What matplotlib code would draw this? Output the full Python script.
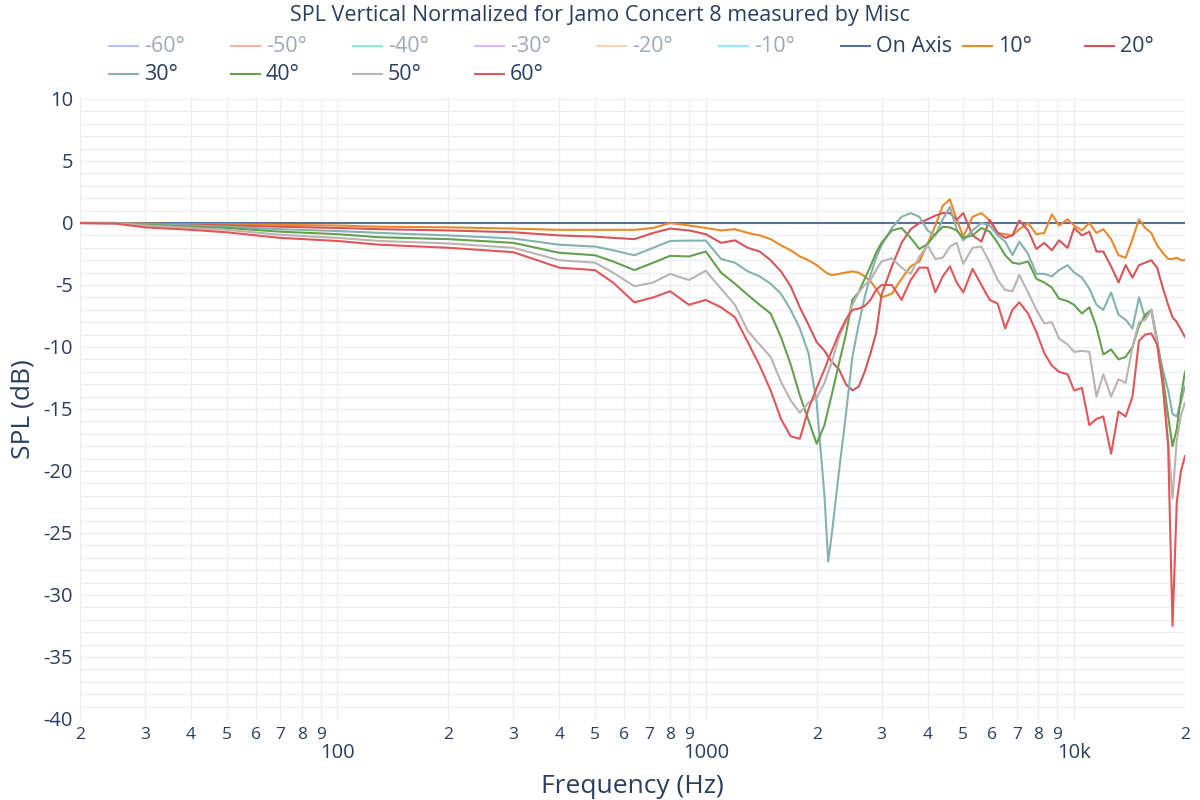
import matplotlib
matplotlib.use("Agg")
import matplotlib.pyplot as plt
from matplotlib.lines import Line2D
from matplotlib.ticker import FixedLocator

plt.rcParams['font.family'] = ['Open Sans', 'DejaVu Sans']
plt.rcParams['axes.unicode_minus'] = False

TEXT = '#2a3f5f'

# frequency grid (Hz)
freq = [20, 25, 30, 40, 50, 70, 100, 130, 200, 300,
        400, 500, 560, 640, 720, 800, 900, 1000,
        1100, 1200, 1300, 1400, 1500, 1600, 1700, 1800, 1900, 2000,
        2100, 2150, 2200, 2300, 2400, 2500, 2600, 2700, 2800, 2900, 3000,
        3200, 3400, 3600, 3800, 4000, 4200, 4400, 4600, 4800, 5000,
        5300, 5600, 5900, 6200, 6500, 6800, 7100, 7500, 7900, 8300, 8700, 9100, 9600, 10000,
        10500, 11000, 11500, 12000, 12600, 13200, 13800, 14400, 15000, 15600, 16200, 16800,
        17400, 18000, 18500, 19000, 19500, 20000]

spl_on = [0.0] * len(freq)

spl_10 = [0, 0, -0.05, -0.1, -0.1, -0.15, -0.2, -0.3, -0.35, -0.45,
          -0.55, -0.55, -0.55, -0.55, -0.4, 0.0, -0.2, -0.4,
          -0.6, -0.5, -0.8, -1.0, -1.3, -1.8, -2.2, -2.7, -3.0, -3.4,
          -3.9, -4.1, -4.2, -4.1, -4.0, -3.9, -4.0, -4.3, -4.7, -5.3, -6.0,
          -5.7, -4.5, -3.5, -3.1, -1.7, -0.2, 1.4, 1.9, 0.3, -1.1,
          0.5, 0.8, 0.2, -0.8, -0.9, -1.0, -0.5, 0.0, -0.9, -0.8, 0.7, -0.2, 0.3, -0.2,
          -0.6, 0.0, -0.8, -0.5, -1.3, -2.6, -2.8, -1.3, 0.3, -0.4, -0.8, -1.8,
          -2.4, -2.9, -2.9, -2.8, -3.0, -3.0]

spl_20 = [0, 0, -0.1, -0.15, -0.2, -0.3, -0.4, -0.5, -0.6, -0.75,
          -1.0, -1.1, -1.2, -1.3, -0.8, -0.45, -0.6, -0.9,
          -1.6, -1.4, -2.0, -2.3, -3.0, -3.9, -5.1, -6.8, -8.2, -9.6,
          -10.3, -10.8, -11.2, -11.8, -13.0, -13.5, -13.2, -12.0, -10.5, -8.9, -5.8,
          -3.5, -1.6, -0.5, 0.0, 0.3, 0.6, 0.8, 0.8, 0.25, 0.8,
          -1.0, -1.5, 0.25, -0.8, -1.2, -1.0, 0.2, -0.6, -2.1, -1.6, -2.2, -1.4, -2.0, -0.4,
          -1.0, -0.7, -2.3, -2.3, -3.5, -4.8, -3.4, -4.4, -3.4, -3.2, -3.0, -3.6,
          -5.2, -6.6, -7.6, -8.0, -8.6, -9.2]

spl_30 = [0, 0, -0.1, -0.2, -0.3, -0.5, -0.65, -0.8, -1.0, -1.25,
          -1.75, -1.9, -2.2, -2.6, -2.0, -1.45, -1.42, -1.42,
          -2.9, -3.2, -3.9, -4.3, -4.9, -5.7, -7.0, -8.5, -10.5, -14.5,
          -22.0, -27.3, -25.0, -20.0, -15.5, -10.8, -8.2, -6.0, -4.2, -2.8, -1.8,
          -0.4, 0.5, 0.8, 0.5, -0.6, -1.0, 0.3, 1.3, -0.5, -1.4,
          -0.6, 0.0, -0.2, -1.0, -1.5, -2.6, -1.5, -2.5, -4.1, -4.1, -4.3, -3.8, -3.4, -4.0,
          -4.4, -5.3, -6.6, -7.0, -5.6, -7.4, -7.8, -8.5, -6.0, -7.7, -7.0, -9.8,
          -11.8, -13.5, -15.4, -15.6, -14.4, -13.2]

spl_40 = [0, 0, -0.15, -0.3, -0.4, -0.7, -0.9, -1.15, -1.3, -1.6,
          -2.4, -2.6, -3.1, -3.8, -3.2, -2.65, -2.7, -2.3,
          -4.0, -4.9, -5.8, -6.6, -7.3, -9.2, -11.4, -13.9, -15.9, -17.8,
          -16.3, -15.0, -13.8, -11.3, -9.0, -6.2, -5.6, -4.5, -3.5, -2.4, -1.6,
          -0.6, -0.4, -1.2, -2.1, -1.7, -0.9, -0.3, -0.35, -0.6, -1.2,
          -1.0, -0.4, -0.7, -1.6, -2.6, -3.2, -3.3, -3.1, -4.5, -4.8, -5.2, -6.1, -6.3, -6.6,
          -7.3, -6.8, -8.4, -10.6, -10.2, -11.0, -10.8, -10.0, -8.3, -7.4, -7.0, -9.4,
          -12.3, -15.6, -18.0, -16.6, -14.0, -12.0]

spl_50 = [0, -0.02, -0.2, -0.4, -0.55, -0.95, -1.2, -1.45, -1.65, -2.0,
          -3.0, -3.2, -4.0, -5.1, -4.8, -4.1, -4.6, -3.85,
          -5.3, -6.6, -8.7, -9.8, -10.8, -12.8, -14.3, -15.3, -14.5, -14.1,
          -12.9, -12.0, -11.2, -9.2, -8.0, -6.6, -5.6, -5.0, -4.6, -3.8, -3.1,
          -2.85, -3.6, -4.1, -2.7, -1.8, -2.9, -2.8, -1.9, -1.6, -3.3,
          -2.0, -1.9, -3.2, -4.6, -5.4, -5.5, -4.2, -5.6, -7.0, -8.1, -8.0, -9.3, -9.8, -10.4,
          -10.3, -10.4, -14.0, -12.2, -14.0, -12.6, -12.9, -10.0, -8.0, -7.8, -7.0, -9.6,
          -13.0, -17.5, -22.2, -17.5, -15.5, -14.5]

spl_60 = [0, -0.05, -0.35, -0.55, -0.75, -1.2, -1.45, -1.75, -2.0, -2.35,
          -3.6, -3.8, -4.8, -6.4, -6.0, -5.5, -6.6, -6.2,
          -6.8, -7.6, -9.6, -11.5, -13.5, -15.8, -17.2, -17.4, -15.0, -13.3,
          -11.8, -11.0, -10.3, -8.9, -7.8, -7.0, -6.9, -6.7, -6.2, -5.4, -5.0,
          -5.0, -6.2, -4.6, -3.6, -3.6, -5.6, -4.3, -3.5, -4.8, -5.6,
          -3.7, -5.0, -6.2, -6.5, -8.5, -7.0, -6.4, -7.3, -8.8, -10.5, -11.5, -12.0, -12.2, -13.5,
          -13.3, -16.3, -15.8, -15.6, -18.6, -15.2, -15.6, -14.0, -9.5, -9.0, -8.9, -9.8,
          -13.0, -18.0, -32.5, -22.5, -20.0, -18.8]

hidden_labels = ['-60°', '-50°', '-40°', '-30°', '-20°', '-10°']
hidden_colors = ['#636efa', '#ef553b', '#00cc96', '#ab63fa', '#ffa15a', '#19d3f3']

shown_labels = ['On Axis', '10°', '20°', '30°', '40°', '50°', '60°']
shown_data = [spl_on, spl_10, spl_20, spl_30, spl_40, spl_50, spl_60]
shown_colors = ['#5471a3', '#e8892c', '#d4555a', '#84b2b0', '#65a04f', '#bcb3b0', '#e15759']

fig = plt.figure(figsize=(12, 8), dpi=100, facecolor='white')
ax = fig.add_axes([80 / 1200, 1 - 719 / 800, 1105 / 1200, 620 / 800])

for y, c in zip(shown_data, shown_colors):
    ax.plot(freq, y, color=c, lw=1.5, solid_joinstyle='round')

ax.set_xscale('log')
ax.set_xlim(20, 20000)
ax.set_ylim(-40, 10)

# ticks and grid
major_x = [100, 1000, 10000]
minor_x = [m * d for d in (10, 100, 1000, 10000) for m in range(2, 10) if 20 <= m * d <= 20000]
ax.xaxis.set_major_locator(FixedLocator(major_x))
ax.set_xticklabels(['100', '1000', '10k'])
ax.set_xticks(minor_x, [str(v)[0] for v in minor_x], minor=True)
ax.set_yticks(range(-40, 11, 5))
ax.set_yticks(range(-40, 11, 1), minor=True)
ax.grid(True, which='both', color='#e9eef6', lw=0.9)
ax.set_axisbelow(True)
ax.tick_params(axis='x', which='major', length=0, pad=17, labelsize=14.5, labelcolor=TEXT)
ax.tick_params(axis='x', which='minor', length=0, pad=6, labelsize=12.5, labelcolor=TEXT)
ax.tick_params(axis='y', which='both', length=0, pad=5, labelsize=14.5, labelcolor=TEXT)
for lbl in ax.get_xticklabels():
    lbl.set_x(lbl.get_position()[0])
for s in ax.spines.values():
    s.set_visible(False)

ax.set_xlabel('Frequency (Hz)', fontsize=19, color=TEXT, labelpad=8)
ax.set_ylabel('SPL (dB)', fontsize=19, color=TEXT, labelpad=6)

fig.text(0.5, 1 - 15 / 800, 'SPL Vertical Normalized for Jamo Concert 8 measured by Misc',
         ha='center', va='center', fontsize=15.5, color=TEXT)

# legend, plotly-like horizontal layout
labels = hidden_labels + shown_labels
colors = hidden_colors + shown_colors
for i, (lab, c) in enumerate(zip(labels, colors)):
    col, row = i % 9, i // 9
    x0 = 109 + col * 122
    yc = 1 - (46 + row * 28) / 800
    faded = i < len(hidden_labels)
    alpha = 0.45 if faded else 1.0
    fig.add_artist(Line2D([x0 / 1200, (x0 + 29) / 1200], [yc, yc], color=c, lw=1.5,
                          alpha=alpha, transform=fig.transFigure))
    fig.text((x0 + 35) / 1200, yc, lab, ha='left', va='center', fontsize=15.5,
             color=TEXT, alpha=alpha)

fig.savefig('out.png', dpi=100, facecolor='white')
